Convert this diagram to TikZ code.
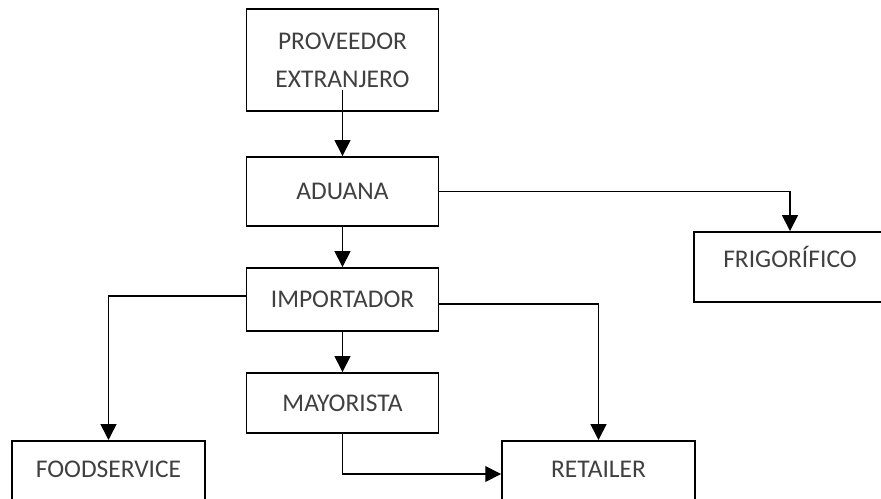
\documentclass[tikz,border=0pt]{standalone}
\usepackage{fontspec}
\setmainfont{Carlito}
\usetikzlibrary{arrows.meta}
\tikzset{
  caja/.style={draw=black, line width=1.1pt, text=black!75, font=\fontsize{14.5}{21.5}\selectfont, align=center, inner sep=0pt, minimum width=3.84cm},
  flecha/.style={line width=0.85pt, -{Triangle[width=9pt,length=9pt]}}
}
\begin{document}
\begin{tikzpicture}[x=0.02cm, y=-0.02cm]
\useasboundingbox (0,0) rectangle (881,498);
\clip (0,0) rectangle (881,498);

\node [caja, minimum height=2.04cm] (proveedor) at (342.5,60) {PROVEEDOR\\EXTRANJERO};
\node [caja, minimum height=1.38cm] (aduana) at (342.5,191.5) {ADUANA};
\node [caja, minimum height=1.26cm] (importador) at (342.5,299.5) {IMPORTADOR};
\node [caja, minimum height=1.2cm] (mayorista) at (342.5,403) {MAYORISTA};
\node [caja, minimum height=1.4cm, text height=0.32cm, text depth=0.3cm] (frigorifico) at (790,267) {FRIGORÍFICO};
\node [caja, anchor=north, minimum width=3.86cm, text height=0.73cm, text depth=2cm] (foodservice) at (108.5,440) {FOODSERVICE};
\node [caja, anchor=north, minimum width=3.86cm, text height=0.73cm, text depth=2cm] (retailer) at (598.5,440) {RETAILER};

\draw [flecha] ([yshift=0.44cm]proveedor.south) -- (aduana.north);
\draw [flecha] (aduana.east) -| (frigorifico.north);
\draw [flecha] (aduana.south) -- (importador.north);
\draw [flecha] ([yshift=0.07cm]importador.west) -| (foodservice.north);
\draw [flecha] ([yshift=-0.09cm]importador.east) -| (retailer.north);
\draw [flecha] (importador.south) -- (mayorista.north);
\draw [flecha] (mayorista.south) |- ([yshift=-0.68cm]retailer.north west);

\end{tikzpicture}
\end{document}
